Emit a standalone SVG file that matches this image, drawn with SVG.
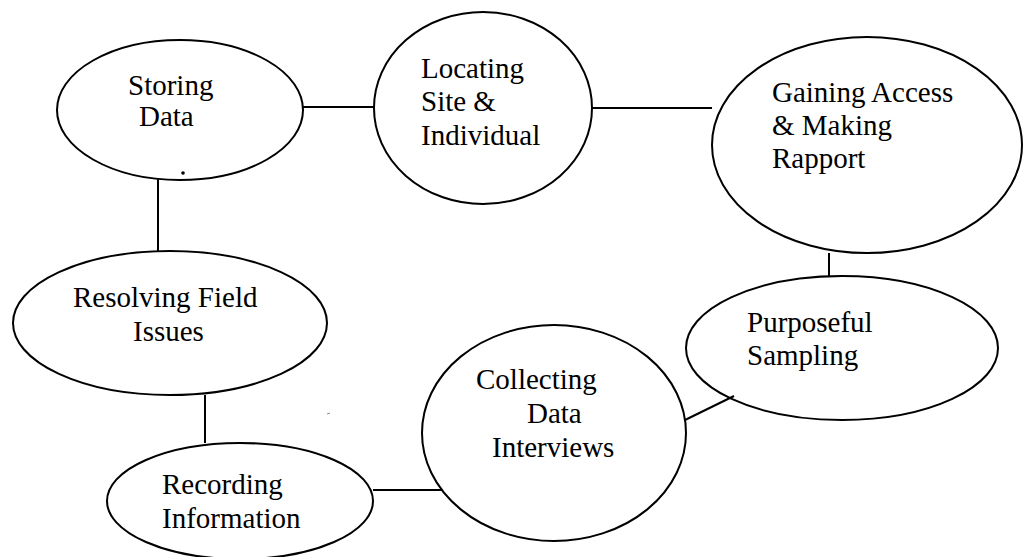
<svg xmlns="http://www.w3.org/2000/svg" width="1023" height="557" viewBox="0 0 1023 557">
<style>
.n{fill:#fff;stroke:#000;stroke-width:2}
.c line{stroke:#000;stroke-width:2}
text{font-family:"Liberation Serif","Times New Roman",serif;font-size:29px;fill:#000}
</style>
<rect width="1023" height="557" fill="#fff"/>
<g id="storing">
<ellipse class="n" cx="180" cy="110" rx="123" ry="70"/>
<text x="128" y="95">Storing</text>
<text x="139" y="126">Data</text>
<circle cx="183" cy="173" r="1.8" fill="#000"/>
</g>
<g id="locating">
<ellipse class="n" cx="483" cy="108" rx="109" ry="96"/>
<text x="421" y="78">Locating</text>
<text x="421" y="111">Site &amp;</text>
<text x="421" y="145">Individual</text>
</g>
<g id="gaining">
<ellipse class="n" cx="867" cy="145" rx="155" ry="108"/>
<text x="772" y="102">Gaining Access</text>
<text x="772" y="135">&amp; Making</text>
<text x="772" y="168">Rapport</text>
</g>
<g id="purposeful">
<ellipse class="n" cx="842" cy="348" rx="156" ry="72"/>
<text x="747" y="332">Purposeful</text>
<text x="747" y="365">Sampling</text>
</g>
<g id="collecting">
<ellipse class="n" cx="554" cy="433" rx="132" ry="108"/>
<text x="476" y="389">Collecting</text>
<text x="527" y="423">Data</text>
<text x="492" y="457">Interviews</text>
</g>
<g id="recording">
<ellipse class="n" cx="240" cy="501" rx="133" ry="58"/>
<text x="162" y="494">Recording</text>
<text x="162" y="528">Information</text>
</g>
<g id="resolving">
<ellipse class="n" cx="170" cy="323" rx="157" ry="72"/>
<text x="73" y="307">Resolving Field</text>
<text x="133" y="341">Issues</text>
</g>
<g id="connectors" class="c">
<line x1="303" y1="107" x2="374" y2="107"/>
<line x1="592" y1="108" x2="712" y2="108"/>
<line x1="829" y1="253" x2="829" y2="276"/>
<line x1="685" y1="420" x2="734" y2="396"/>
<line x1="373" y1="490" x2="442" y2="490"/>
<line x1="205" y1="395" x2="205" y2="443"/>
<line x1="158" y1="179" x2="158" y2="252"/>
</g>
<line x1="327" y1="414" x2="330" y2="413" stroke="#888" stroke-width="1"/>
</svg>
